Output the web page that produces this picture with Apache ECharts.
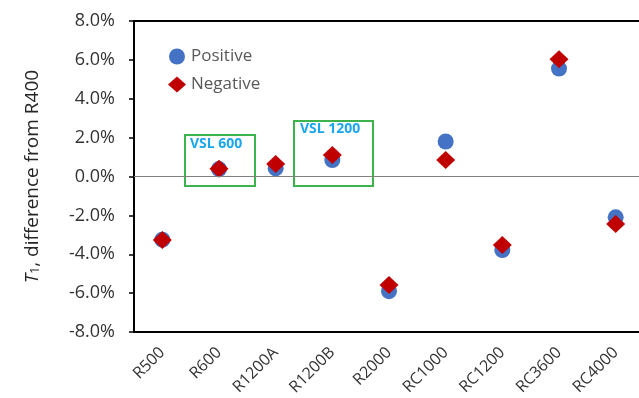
<!DOCTYPE html>
<html>
<head>
<meta charset="utf-8">
<script src="https://cdn.jsdelivr.net/npm/echarts@6/dist/echarts.min.js"></script>
<style>html,body{margin:0;padding:0;background:#fff;overflow:hidden;width:639px;height:398px;}#c{width:646px;height:398px;}</style>
</head>
<body>
<div id="c"></div>
<script>
const categories = ['R500','R600','R1200A','R1200B','R2000','RC1000','RC1200','RC3600','RC4000'];
const positive = [-3.25, 0.38, 0.42, 0.85, -5.9, 1.8, -3.78, 5.55, -2.1];
const negative = [-3.27, 0.4, 0.64, 1.1, -5.58, 0.85, -3.52, 6.03, -2.44];
const yTicks = {min: -8, max: 8, interval: 2};

const FONT = 'Open Sans';
const chart = echarts.init(document.getElementById('c'));
chart.setOption({
  animation: false,
  textStyle: {fontFamily: FONT},
  grid: {left: 134, top: 21, width: 510, height: 311, show: false},
  legend: {
    orient: 'vertical', left: 163, top: 43, itemGap: 11, itemWidth: 18, itemHeight: 16,
    textStyle: {fontFamily: FONT, fontSize: 17, color: '#595959'},
    data: [
      {name: 'Positive', icon: 'circle', itemStyle: {color: '#4472C4'}},
      {name: 'Negative', icon: 'diamond', itemStyle: {color: '#C00000'}}
    ]
  },
  xAxis: [{
    type: 'category', data: categories, boundaryGap: true,
    axisLine: {onZero: false, lineStyle: {color: '#000', width: 2}},
    axisTick: {inside: true, length: 6, lineStyle: {color: '#000', width: 1.5}},
    axisLabel: {rotate: 45, fontSize: 16, color: '#333', margin: 18, fontFamily: FONT},
    splitLine: {show: false}
  }, {
    type: 'category', data: categories, position: 'top',
    axisLine: {onZero: false, lineStyle: {color: '#000', width: 2}},
    axisTick: {show: false}, axisLabel: {show: false}, splitLine: {show: false}
  }],
  yAxis: {
    type: 'value', min: yTicks.min, max: yTicks.max, interval: yTicks.interval,
    axisLine: {show: true, lineStyle: {color: '#000', width: 2}},
    axisTick: {show: true, inside: false, length: 5, lineStyle: {color: '#000', width: 1.5}},
    axisLabel: {fontSize: 18, color: '#333', margin: 19, fontFamily: FONT, formatter: v => v.toFixed(1) + '%'},
    splitLine: {show: false},
    name: '{i|T}{s|1}{n|, difference from R400}',
    nameLocation: 'middle', nameRotate: 90, nameGap: 92,
    nameTextStyle: {
      rich: {
        i: {fontStyle: 'italic', fontSize: 19, color: '#262626', fontFamily: FONT},
        s: {fontSize: 12, color: '#262626', verticalAlign: 'bottom', fontFamily: FONT, padding: [6, 0, 0, 0]},
        n: {fontSize: 19, color: '#262626', fontFamily: FONT}
      }
    }
  },
  graphic: [
    {type: 'rect', shape: {x: 185, y: 135, width: 70, height: 51}, style: {fill: 'none', stroke: '#3CB44B', lineWidth: 2}, z: 1},
    {type: 'text', left: 190, top: 137, style: {text: 'VSL 600', font: 'bold 14px "Open Sans"', fill: '#1AA7EC'}, z: 1},
    {type: 'rect', shape: {x: 294, y: 121, width: 79, height: 65}, style: {fill: 'none', stroke: '#3CB44B', lineWidth: 2}, z: 1},
    {type: 'text', left: 300, top: 122, style: {text: 'VSL 1200', font: 'bold 14px "Open Sans"', fill: '#1AA7EC'}, z: 1}
  ],
  series: [
    {
      name: 'Positive', type: 'scatter', data: positive, symbol: 'circle', symbolSize: 16,
      itemStyle: {color: '#4472C4', opacity: 1}, z: 3,
      markLine: {silent: true, symbol: 'none', label: {show: false}, lineStyle: {color: '#808080', width: 1, type: 'solid'}, data: [{yAxis: 0}]}
    },
    {
      name: 'Negative', type: 'scatter', data: negative, symbol: 'diamond', symbolSize: [19, 18],
      itemStyle: {color: '#C00000', opacity: 1}, z: 4
    }
  ]
});
</script>
</body>
</html>
